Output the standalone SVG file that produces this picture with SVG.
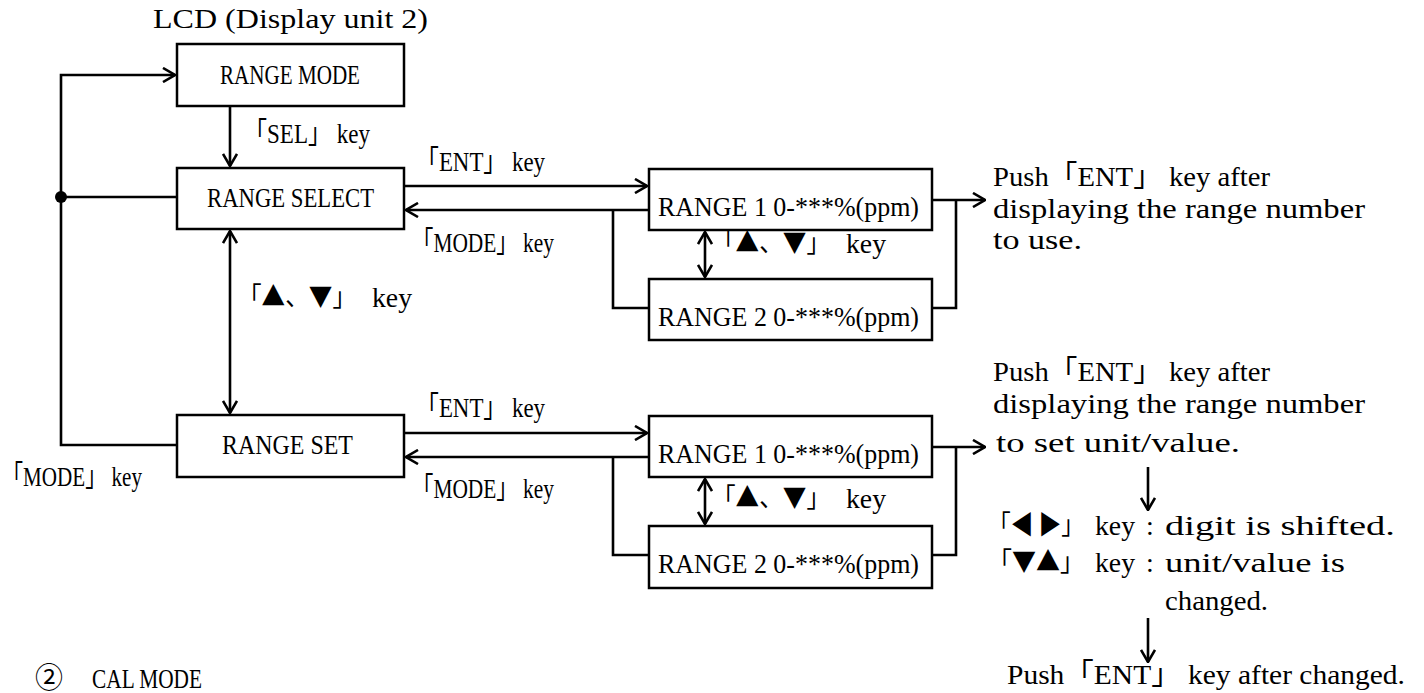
<svg xmlns="http://www.w3.org/2000/svg" width="1424" height="693" viewBox="0 0 1424 693">
  <style>
    text { font-family: "Liberation Serif", "Noto Sans CJK JP", serif; font-size: 28px; fill: #000; }
    .cjk { font-family: "Noto Sans CJK JP", "Liberation Serif", sans-serif; font-size: 26px; }
    .box { fill: #fff; stroke: #000; stroke-width: 2.5; }
    .ln { fill: none; stroke: #000; stroke-width: 2.6; }
  </style>
  <defs>
    <marker id="arr" viewBox="0 0 14 16" refX="13" refY="8" markerWidth="14" markerHeight="16" markerUnits="userSpaceOnUse" orient="auto-start-reverse">
      <path d="M1,1 L13,8 L1,15" fill="none" stroke="#000" stroke-width="2.6"/>
    </marker>
  </defs>

  <text x="153" y="28" textLength="275" lengthAdjust="spacingAndGlyphs">LCD (Display unit 2)</text>

  <!-- connectors -->
  <g id="connectors">
    <polyline class="ln" points="177,445 61,445 61,75 175,75" marker-end="url(#arr)"/>
    <line class="ln" x1="61" y1="197" x2="177" y2="197"/>
    <circle cx="61" cy="197" r="6" fill="#000"/>
    <line class="ln" x1="230" y1="106" x2="230" y2="166" marker-end="url(#arr)"/>
    <line class="ln" x1="230" y1="231" x2="230" y2="413" marker-start="url(#arr)" marker-end="url(#arr)"/>

    <!-- select branch -->
    <line class="ln" x1="404" y1="186" x2="647" y2="186" marker-end="url(#arr)"/>
    <line class="ln" x1="649" y1="210" x2="406" y2="210" marker-end="url(#arr)"/>
    <polyline class="ln" points="613,210 613,308 649,308"/>
    <line class="ln" x1="705" y1="232" x2="705" y2="277" marker-start="url(#arr)" marker-end="url(#arr)"/>
    <line class="ln" x1="932" y1="200" x2="985" y2="200" marker-end="url(#arr)"/>
    <polyline class="ln" points="956,200 956,308 932,308"/>

    <!-- set branch -->
    <line class="ln" x1="404" y1="433" x2="647" y2="433" marker-end="url(#arr)"/>
    <line class="ln" x1="649" y1="457" x2="406" y2="457" marker-end="url(#arr)"/>
    <polyline class="ln" points="613,457 613,555 649,555"/>
    <line class="ln" x1="705" y1="479" x2="705" y2="524" marker-start="url(#arr)" marker-end="url(#arr)"/>
    <line class="ln" x1="932" y1="447" x2="985" y2="447" marker-end="url(#arr)"/>
    <polyline class="ln" points="956,447 956,555 932,555"/>

    <line class="ln" x1="1148" y1="467" x2="1148" y2="510" marker-end="url(#arr)"/>
    <line class="ln" x1="1148" y1="618" x2="1148" y2="662" marker-end="url(#arr)"/>
  </g>

  <!-- nodes -->
  <g id="range-mode">
    <rect class="box" x="177" y="44" width="227" height="62"/>
    <text x="220" y="84" textLength="140" lengthAdjust="spacingAndGlyphs">RANGE MODE</text>
  </g>
  <g id="range-select">
    <rect class="box" x="177" y="168" width="227" height="61"/>
    <text x="207" y="207" textLength="167" lengthAdjust="spacingAndGlyphs">RANGE SELECT</text>
  </g>
  <g id="range-set">
    <rect class="box" x="177" y="415" width="227" height="62"/>
    <text x="222" y="454" textLength="131" lengthAdjust="spacingAndGlyphs">RANGE SET</text>
  </g>
  <g id="select-range1">
    <rect class="box" x="649" y="169" width="283" height="61"/>
    <text x="658" y="216" textLength="261" lengthAdjust="spacingAndGlyphs">RANGE 1 0-***%(ppm)</text>
  </g>
  <g id="select-range2">
    <rect class="box" x="649" y="279" width="283" height="61"/>
    <text x="658" y="326" textLength="261" lengthAdjust="spacingAndGlyphs">RANGE 2 0-***%(ppm)</text>
  </g>
  <g id="set-range1">
    <rect class="box" x="649" y="416" width="283" height="61"/>
    <text x="658" y="463" textLength="261" lengthAdjust="spacingAndGlyphs">RANGE 1 0-***%(ppm)</text>
  </g>
  <g id="set-range2">
    <rect class="box" x="649" y="526" width="283" height="62"/>
    <text x="658" y="573" textLength="261" lengthAdjust="spacingAndGlyphs">RANGE 2 0-***%(ppm)</text>
  </g>

  <!-- key labels -->
  <g id="labels">
    <text x="244" y="143" textLength="126" lengthAdjust="spacingAndGlyphs">「SEL」 key</text>
    <text x="416" y="171" textLength="129" lengthAdjust="spacingAndGlyphs">「ENT」 key</text>
    <text x="412" y="252" textLength="142" lengthAdjust="spacingAndGlyphs">「MODE」 key</text>
    <text x="416" y="417" textLength="129" lengthAdjust="spacingAndGlyphs">「ENT」 key</text>
    <text x="412" y="498" textLength="142" lengthAdjust="spacingAndGlyphs">「MODE」 key</text>
    <text x="2" y="486" textLength="140" lengthAdjust="spacingAndGlyphs">「MODE」 key</text>

    <text class="cjk" x="238" y="306" textLength="118" lengthAdjust="spacingAndGlyphs">「▲、▼」</text>
    <text x="372" y="307" textLength="40" lengthAdjust="spacingAndGlyphs">key</text>
    <text class="cjk" x="712" y="252" textLength="118" lengthAdjust="spacingAndGlyphs">「▲、▼」</text>
    <text x="846" y="253" textLength="40" lengthAdjust="spacingAndGlyphs">key</text>
    <text class="cjk" x="712" y="507" textLength="118" lengthAdjust="spacingAndGlyphs">「▲、▼」</text>
    <text x="846" y="508" textLength="40" lengthAdjust="spacingAndGlyphs">key</text>
  </g>

  <!-- notes -->
  <g id="notes">
    <text x="993" y="186" textLength="277" lengthAdjust="spacingAndGlyphs">Push「ENT」 key after</text>
    <text x="993" y="218" textLength="372" lengthAdjust="spacingAndGlyphs">displaying the range number</text>
    <text x="993" y="249" textLength="89" lengthAdjust="spacingAndGlyphs">to use.</text>

    <text x="993" y="381" textLength="277" lengthAdjust="spacingAndGlyphs">Push「ENT」 key after</text>
    <text x="993" y="413" textLength="372" lengthAdjust="spacingAndGlyphs">displaying the range number</text>
    <text x="996" y="452" textLength="244" lengthAdjust="spacingAndGlyphs">to set unit/value.</text>

    <text class="cjk" x="988" y="534" textLength="96" lengthAdjust="spacingAndGlyphs">「◀ ▶」</text>
    <text x="1095" y="535" textLength="40" lengthAdjust="spacingAndGlyphs">key</text>
    <text x="1150" y="535" text-anchor="middle">:</text>
    <text x="1165" y="535" textLength="230" lengthAdjust="spacingAndGlyphs">digit is shifted.</text>

    <text class="cjk" x="988" y="571" textLength="96" lengthAdjust="spacingAndGlyphs">「▼▲」</text>
    <text x="1095" y="572" textLength="40" lengthAdjust="spacingAndGlyphs">key</text>
    <text x="1150" y="572" text-anchor="middle">:</text>
    <text x="1165" y="572" textLength="180" lengthAdjust="spacingAndGlyphs">unit/value is</text>

    <text x="1165" y="610" textLength="103" lengthAdjust="spacingAndGlyphs">changed.</text>
    <text x="1007" y="684" textLength="398" lengthAdjust="spacingAndGlyphs">Push「ENT」 key after changed.</text>

    <text x="35" y="688">②</text>
    <text x="92" y="688" textLength="110" lengthAdjust="spacingAndGlyphs">CAL MODE</text>
  </g>
</svg>
